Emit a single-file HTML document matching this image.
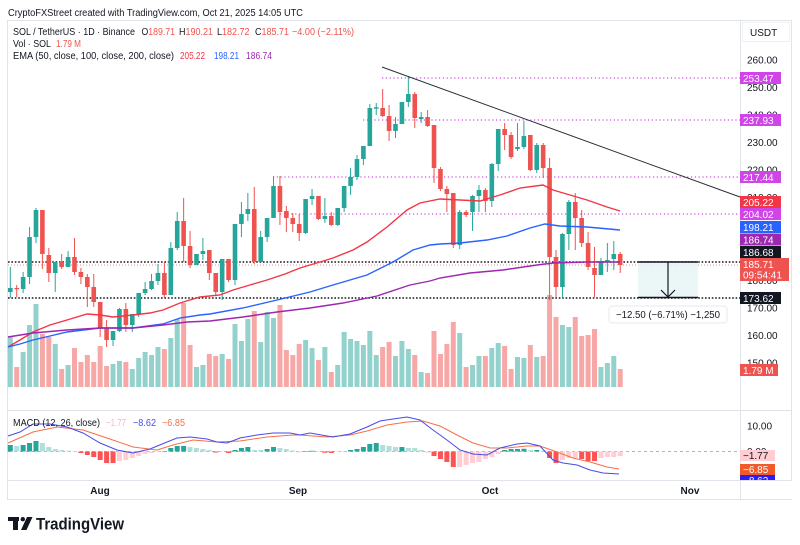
<!DOCTYPE html>
<html><head><meta charset="utf-8">
<style>
html,body{margin:0;padding:0;background:#fff;}
svg{display:block;font-family:"Liberation Sans",Arial,sans-serif;}
</style></head>
<body>
<svg width="800" height="545" viewBox="0 0 800 545" xmlns="http://www.w3.org/2000/svg">
<rect width="800" height="545" fill="#fff"/>
<text x="8" y="16" font-size="10" fill="#131722" textLength="295" lengthAdjust="spacingAndGlyphs">CryptoFXStreet created with TradingView.com, Oct 21, 2025 14:05 UTC</text>

<!-- frame -->
<rect x="7.5" y="20.5" width="784" height="479" fill="none" stroke="#e0e3eb" stroke-width="1"/>
<line x1="740.5" y1="20" x2="740.5" y2="500" stroke="#e0e3eb"/>
<line x1="8" y1="410.5" x2="792" y2="410.5" stroke="#e0e3eb"/>
<line x1="8" y1="480.5" x2="792" y2="480.5" stroke="#e0e3eb"/>

<!-- volume -->
<path fill="#93d2cc" d="M7.8 337h5V387h-5ZM20.64 352h5V387h-5ZM27.06 325h5V387h-5ZM33.48 304h5V387h-5ZM52.74 344h5V387h-5ZM65.58 365h5V387h-5ZM110.52 364h5V387h-5ZM116.94 361h5V387h-5ZM129.78 369h5V387h-5ZM136.2 358h5V387h-5ZM142.62 352h5V387h-5ZM149.04 355h5V387h-5ZM155.46 347h5V387h-5ZM168.3 338h5V387h-5ZM174.72 319h5V387h-5ZM193.98 367h5V387h-5ZM200.4 365h5V387h-5ZM219.66 354h5V387h-5ZM232.5 324h5V387h-5ZM238.92 341h5V387h-5ZM245.34 319h5V387h-5ZM258.18 342h5V387h-5ZM264.6 312h5V387h-5ZM271.02 318h5V387h-5ZM303.12 340h5V387h-5ZM309.54 348h5V387h-5ZM322.38 347h5V387h-5ZM335.22 365h5V387h-5ZM341.64 332h5V387h-5ZM348.06 339h5V387h-5ZM354.48 341h5V387h-5ZM360.9 345h5V387h-5ZM367.32 331h5V387h-5ZM373.74 355h5V387h-5ZM393 356h5V387h-5ZM399.42 341h5V387h-5ZM405.84 349h5V387h-5ZM418.68 372h5V387h-5ZM457.2 333h5V387h-5ZM470.04 365h5V387h-5ZM476.46 356h5V387h-5ZM489.3 348h5V387h-5ZM495.72 343h5V387h-5ZM514.98 357h5V387h-5ZM521.4 358h5V387h-5ZM534.24 357h5V387h-5ZM559.92 325h5V387h-5ZM566.34 327h5V387h-5ZM598.44 367h5V387h-5ZM604.86 363h5V387h-5ZM611.28 356h5V387h-5Z"/>
<path fill="#f6a7a6" d="M14.22 367h5V387h-5ZM39.9 334h5V387h-5ZM46.32 337h5V387h-5ZM59.16 369h5V387h-5ZM72 348h5V387h-5ZM78.42 362h5V387h-5ZM84.84 355h5V387h-5ZM91.26 362h5V387h-5ZM97.68 346h5V387h-5ZM104.1 366h5V387h-5ZM123.36 362h5V387h-5ZM161.88 349h5V387h-5ZM181.14 303h5V387h-5ZM187.56 345h5V387h-5ZM206.82 354h5V387h-5ZM213.24 356h5V387h-5ZM226.08 359h5V387h-5ZM251.76 311h5V387h-5ZM277.44 305h5V387h-5ZM283.86 350h5V387h-5ZM290.28 355h5V387h-5ZM296.7 344h5V387h-5ZM315.96 360h5V387h-5ZM328.8 372h5V387h-5ZM380.16 347h5V387h-5ZM386.58 342h5V387h-5ZM412.26 355h5V387h-5ZM425.1 373h5V387h-5ZM431.52 331h5V387h-5ZM437.94 354h5V387h-5ZM444.36 344h5V387h-5ZM450.78 322h5V387h-5ZM463.62 367h5V387h-5ZM482.88 356h5V387h-5ZM502.14 346h5V387h-5ZM508.56 369h5V387h-5ZM527.82 345h5V387h-5ZM540.66 356h5V387h-5ZM547.08 295h5V387h-5ZM553.5 317h5V387h-5ZM572.76 317h5V387h-5ZM579.18 336h5V387h-5ZM585.6 335h5V387h-5ZM592.02 329h5V387h-5ZM617.7 369h5V387h-5Z"/>

<!-- horizontal levels -->
<g fill="none">
<line x1="382" y1="78" x2="740" y2="78" stroke="#d24ae6" stroke-width="1.2" stroke-dasharray="1.2 2.6"/>
<line x1="363" y1="120" x2="740" y2="120" stroke="#d24ae6" stroke-width="1.2" stroke-dasharray="1.2 2.6"/>
<line x1="273" y1="177" x2="740" y2="177" stroke="#d24ae6" stroke-width="1.2" stroke-dasharray="1.2 2.6"/>
<line x1="280" y1="214" x2="740" y2="214" stroke="#d24ae6" stroke-width="1.2" stroke-dasharray="1.2 2.6"/>
<line x1="8" y1="265" x2="740" y2="265" stroke="#f28b8b" stroke-width="1" stroke-dasharray="1 2"/>
<line x1="8" y1="262" x2="740" y2="262" stroke="#131722" stroke-width="1.6" stroke-dasharray="1.6 1.8"/>
<line x1="8" y1="298" x2="740" y2="298" stroke="#131722" stroke-width="1.6" stroke-dasharray="1.6 1.8"/>
</g>

<!-- measure box -->
<rect x="638" y="262" width="60" height="36" fill="#e6f4f4" opacity="0.8"/>
<line x1="638" y1="262" x2="698" y2="262" stroke="#131722" stroke-width="1.5"/>
<line x1="638" y1="297.5" x2="698" y2="297.5" stroke="#131722" stroke-width="1.5"/>
<line x1="668" y1="262" x2="668" y2="297" stroke="#131722" stroke-width="1.2"/>
<polyline points="661,290 668,297 675,290" fill="none" stroke="#131722" stroke-width="1.2"/>

<!-- candles: wicks -->
<path fill="none" stroke="#26a69a" stroke-width="1" d="M10.3 267V298M23.14 272V293M29.56 227V284M35.98 208V243M55.24 262V292M68.08 251V267M113.02 331V346M119.44 308V332M132.28 314V332M138.7 293V317M145.12 282V295M151.54 274V290M157.96 264V285M170.8 242V295M177.22 212V250M196.48 254V265M202.9 238V260M222.16 259V300M235 224V285M241.42 202V237M247.84 193V221M260.68 231V262M267.1 218V242M273.52 176V218M305.62 199V234M312.04 189V205M324.88 198V223M337.72 208V226M344.14 186V212M350.56 168V195M356.98 155V180M363.4 146V165M369.82 104V146M376.24 103V115M395.5 117V138M401.92 102V124M408.34 77V107M421.18 112V123M459.7 210V249M472.54 195V231M478.96 185V212M491.8 163V207M498.22 129V171M517.48 123V151M523.9 121V149M536.74 143V173M562.42 233V298M568.84 200V250M600.94 258V275M607.36 243V272M613.78 241V270"/>
<path fill="none" stroke="#ef5350" stroke-width="1" d="M16.72 285V297M42.4 210V269M48.82 248V282M61.66 254V269M74.5 238V275M80.92 268V284M87.34 274V307M93.76 274V307M100.18 302V337M106.6 320V347M125.86 303V332M164.38 262V298M183.64 198V262M190.06 231V268M209.32 250V280M215.74 273V295M228.58 259V282M254.26 187V264M279.94 176V225M286.36 206V232M292.78 213V232M299.2 214V241M318.46 196V220M331.3 212V226M382.66 89V117M389.08 105V141M414.76 92V128M427.6 110V127M434.02 125V183M440.44 167V191M446.86 186V212M453.28 193V248M466.12 210V217M485.38 188V212M504.64 123V150M511.06 132V159M530.32 135V171M543.16 143V178M549.58 158V300M556 250V297M575.26 193V250M581.68 210V247M588.1 232V270M594.52 247V297M620.2 252V273"/>
<!-- candles: bodies -->
<path fill="#26a69a" d="M8 288h4.6V292h-4.6ZM20.84 277h4.6V289h-4.6ZM27.26 237h4.6V277h-4.6ZM33.68 210h4.6V237h-4.6ZM52.94 262h4.6V273h-4.6ZM65.78 257h4.6V267h-4.6ZM110.72 331h4.6V340h-4.6ZM117.14 309h4.6V331h-4.6ZM129.98 314h4.6V325h-4.6ZM136.4 293h4.6V314h-4.6ZM142.82 289h4.6V293h-4.6ZM149.24 281h4.6V289h-4.6ZM155.66 273h4.6V281h-4.6ZM168.5 248h4.6V295h-4.6ZM174.92 221h4.6V248h-4.6ZM194.18 254h4.6V265h-4.6ZM200.6 251h4.6V254h-4.6ZM219.86 259h4.6V292h-4.6ZM232.7 224h4.6V280h-4.6ZM239.12 214h4.6V224h-4.6ZM245.54 209h4.6V214h-4.6ZM258.38 237h4.6V262h-4.6ZM264.8 218h4.6V237h-4.6ZM271.22 186h4.6V218h-4.6ZM303.32 199h4.6V233h-4.6ZM309.74 196h4.6V199h-4.6ZM322.58 216h4.6V219h-4.6ZM335.42 208h4.6V225h-4.6ZM341.84 186h4.6V208h-4.6ZM348.26 177h4.6V186h-4.6ZM354.68 159h4.6V177h-4.6ZM361.1 146h4.6V159h-4.6ZM367.52 108h4.6V146h-4.6ZM373.94 107.3h4.6V108.7h-4.6ZM393.2 124h4.6V131h-4.6ZM399.62 102h4.6V124h-4.6ZM406.04 94h4.6V102h-4.6ZM418.88 117h4.6V119h-4.6ZM457.4 212h4.6V245h-4.6ZM470.24 196h4.6V212h-4.6ZM476.66 190h4.6V196h-4.6ZM489.5 164h4.6V201h-4.6ZM495.92 129h4.6V164h-4.6ZM515.18 147h4.6V149h-4.6ZM521.6 136h4.6V147h-4.6ZM534.44 145h4.6V170h-4.6ZM560.12 234h4.6V287h-4.6ZM566.54 202h4.6V234h-4.6ZM598.64 261h4.6V275h-4.6ZM605.06 260h4.6V262h-4.6ZM611.48 254h4.6V259h-4.6Z"/>
<path fill="#ef5350" d="M14.42 288h4.6V289.2h-4.6ZM40.1 210h4.6V254h-4.6ZM46.52 255h4.6V273h-4.6ZM59.36 262h4.6V267h-4.6ZM72.2 257h4.6V272h-4.6ZM78.62 272h4.6V277h-4.6ZM85.04 277h4.6V287h-4.6ZM91.46 287h4.6V302h-4.6ZM97.88 302h4.6V328h-4.6ZM104.3 328h4.6V340h-4.6ZM123.56 309h4.6V325h-4.6ZM162.08 273h4.6V295h-4.6ZM181.34 221h4.6V246h-4.6ZM187.76 246h4.6V265h-4.6ZM207.02 250h4.6V273h-4.6ZM213.44 273h4.6V292h-4.6ZM226.28 259h4.6V280h-4.6ZM251.96 209h4.6V262h-4.6ZM277.64 186h4.6V212h-4.6ZM284.06 211h4.6V218h-4.6ZM290.48 218h4.6V224h-4.6ZM296.9 224h4.6V233h-4.6ZM316.16 196h4.6V219h-4.6ZM329 216h4.6V225h-4.6ZM380.36 108h4.6V116h-4.6ZM386.78 116h4.6V131h-4.6ZM412.46 94h4.6V118h-4.6ZM425.3 117h4.6V126h-4.6ZM431.72 125h4.6V168h-4.6ZM438.14 169h4.6V189h-4.6ZM444.56 189h4.6V194h-4.6ZM450.98 193h4.6V245h-4.6ZM463.82 212h4.6V215h-4.6ZM483.08 190h4.6V201h-4.6ZM502.34 129h4.6V135h-4.6ZM508.76 135h4.6V157h-4.6ZM528.02 135h4.6V170h-4.6ZM540.86 145h4.6V168h-4.6ZM547.28 168h4.6V257h-4.6ZM553.7 257h4.6V287h-4.6ZM572.96 202h4.6V218h-4.6ZM579.38 218h4.6V243h-4.6ZM585.8 243h4.6V267h-4.6ZM592.22 268h4.6V275h-4.6ZM617.9 254h4.6V265h-4.6Z"/>

<!-- EMAs -->
<polyline fill="none" stroke="#f23645" stroke-width="1.4" points="8,347 20,340 33,332 50,325 67,320 87,314 100,315 113,317 133,315 150,313 163,310 180,303 200,297 220,295 233,290 250,285 267,280 285,274 300,268 320,262 333,258 353,250 367,242 387,227 407,210 420,203 440,199 460,200 480,201 500,195 520,188 543,185 553,190 570,195 587,200 607,207 620,211"/>
<polyline fill="none" stroke="#2962ff" stroke-width="1.4" points="8,347 20,344 33,340 50,336 67,332 100,328 133,328 163,324 180,318 200,315 210,314 243,308 277,300 310,292 333,285 367,275 393,262 413,250 430,245 440,244 460,243 487,240 507,236 530,228 545,224 560,226 587,227 620,230"/>
<polyline fill="none" stroke="#9c27b0" stroke-width="1.4" points="8,337 33,333 67,330 100,328 133,328 163,325 187,322 210,321 243,317 277,312 310,308 343,303 377,296 410,285 430,281 440,278 470,273 503,270 537,265 553,263 587,262 620,262"/>

<!-- trendline -->
<line x1="382" y1="67" x2="740" y2="197" stroke="#2a2e39" stroke-width="1"/>

<!-- measure label -->
<rect x="609" y="306" width="118" height="17" rx="3" fill="#fff" stroke="#e6e8ee" stroke-width="1"/>
<text x="668" y="318" font-size="10" fill="#131722" text-anchor="middle" textLength="104" lengthAdjust="spacingAndGlyphs">−12.50 (−6.71%) −1,250</text>

<!-- legend -->
<text x="13" y="35" font-size="10" fill="#131722" textLength="122" lengthAdjust="spacingAndGlyphs">SOL / TetherUS · 1D · Binance</text>
<text x="141.5" y="35" font-size="10" fill="#131722" textLength="33.5" lengthAdjust="spacingAndGlyphs">O<tspan fill="#ef5350">189.71</tspan></text>
<text x="179" y="35" font-size="10" fill="#131722" textLength="34" lengthAdjust="spacingAndGlyphs">H<tspan fill="#ef5350">190.21</tspan></text>
<text x="217" y="35" font-size="10" fill="#131722" textLength="32.5" lengthAdjust="spacingAndGlyphs">L<tspan fill="#ef5350">182.72</tspan></text>
<text x="255" y="35" font-size="10" fill="#131722" textLength="34" lengthAdjust="spacingAndGlyphs">C<tspan fill="#ef5350">185.71</tspan></text>
<text x="292" y="35" font-size="10" fill="#ef5350" textLength="62" lengthAdjust="spacingAndGlyphs">−4.00 (−2.11%)</text>
<text x="13" y="47" font-size="10" fill="#131722" textLength="38" lengthAdjust="spacingAndGlyphs">Vol · SOL</text>
<text x="56" y="47" font-size="10" fill="#ef5350" textLength="25" lengthAdjust="spacingAndGlyphs">1.79 M</text>
<text x="13" y="59" font-size="10" fill="#131722" textLength="161" lengthAdjust="spacingAndGlyphs">EMA (50, close, 100, close, 200, close)</text>
<text x="180" y="59" font-size="10" fill="#f23645" textLength="25" lengthAdjust="spacingAndGlyphs">205.22</text>
<text x="214" y="59" font-size="10" fill="#2962ff" textLength="25" lengthAdjust="spacingAndGlyphs">198.21</text>
<text x="246" y="59" font-size="10" fill="#9c27b0" textLength="26" lengthAdjust="spacingAndGlyphs">186.74</text>

<!-- MACD panel -->
<line x1="8" y1="451.5" x2="740" y2="451.5" stroke="#b2b5be" stroke-width="1" stroke-dasharray="3 3"/>
<path fill="#26a69a" d="M7.8 445h5V451.5h-5ZM20.64 445h5V451.5h-5ZM27.06 443h5V451.5h-5ZM33.48 441h5V451.5h-5ZM161.88 451h5V451.5h-5ZM168.3 448h5V451.5h-5ZM174.72 446h5V451.5h-5ZM181.14 446h5V451.5h-5ZM232.5 450h5V451.5h-5ZM238.92 448h5V451.5h-5ZM245.34 447h5V451.5h-5ZM264.6 449h5V451.5h-5ZM271.02 447h5V451.5h-5ZM303.12 451h5V451.5h-5ZM309.54 450.8h5V451.5h-5ZM348.06 450h5V451.5h-5ZM354.48 449h5V451.5h-5ZM360.9 447h5V451.5h-5ZM367.32 444h5V451.5h-5ZM373.74 443h5V451.5h-5ZM399.42 447h5V451.5h-5ZM502.14 450h5V451.5h-5ZM508.56 449h5V451.5h-5ZM514.98 449h5V451.5h-5ZM521.4 448.7h5V451.5h-5ZM534.24 450h5V451.5h-5Z"/>
<path fill="#b2dfdb" d="M14.22 446h5V451.5h-5ZM39.9 443h5V451.5h-5ZM46.32 447h5V451.5h-5ZM52.74 449h5V451.5h-5ZM59.16 450h5V451.5h-5ZM65.58 450.8h5V451.5h-5ZM187.56 447h5V451.5h-5ZM193.98 448h5V451.5h-5ZM200.4 449h5V451.5h-5ZM206.82 450h5V451.5h-5ZM251.76 450h5V451.5h-5ZM258.18 450h5V451.5h-5ZM277.44 448h5V451.5h-5ZM283.86 449h5V451.5h-5ZM290.28 450.5h5V451.5h-5ZM341.64 451h5V451.5h-5ZM380.16 445h5V451.5h-5ZM386.58 446h5V451.5h-5ZM393 447h5V451.5h-5ZM405.84 448h5V451.5h-5ZM412.26 448h5V451.5h-5ZM418.68 450h5V451.5h-5ZM527.82 450h5V451.5h-5ZM540.66 450.5h5V451.5h-5Z"/>
<path fill="#ff5252" d="M78.42 453h5V451.5h-5ZM84.84 455h5V451.5h-5ZM91.26 457h5V451.5h-5ZM97.68 460h5V451.5h-5ZM104.1 463h5V451.5h-5ZM110.52 463h5V451.5h-5ZM213.24 452.5h5V451.5h-5ZM226.08 453h5V451.5h-5ZM322.38 452.7h5V451.5h-5ZM328.8 453h5V451.5h-5ZM431.52 456h5V451.5h-5ZM437.94 459h5V451.5h-5ZM444.36 462h5V451.5h-5ZM450.78 467h5V451.5h-5ZM547.08 458h5V451.5h-5ZM553.5 463h5V451.5h-5ZM579.18 459h5V451.5h-5ZM585.6 461h5V451.5h-5ZM592.02 461h5V451.5h-5Z"/>
<path fill="#ffcdd2" d="M72 452h5V451.5h-5ZM116.94 461h5V451.5h-5ZM123.36 460h5V451.5h-5ZM129.78 458h5V451.5h-5ZM136.2 456h5V451.5h-5ZM142.62 454h5V451.5h-5ZM149.04 453h5V451.5h-5ZM155.46 452h5V451.5h-5ZM219.66 452h5V451.5h-5ZM296.7 452.5h5V451.5h-5ZM315.96 452h5V451.5h-5ZM335.22 452h5V451.5h-5ZM425.1 452.7h5V451.5h-5ZM457.2 467h5V451.5h-5ZM463.62 465h5V451.5h-5ZM470.04 463h5V451.5h-5ZM476.46 462h5V451.5h-5ZM482.88 459h5V451.5h-5ZM489.3 457h5V451.5h-5ZM495.72 454h5V451.5h-5ZM559.92 460h5V451.5h-5ZM566.34 458h5V451.5h-5ZM572.76 458h5V451.5h-5ZM598.44 458h5V451.5h-5ZM604.86 457h5V451.5h-5ZM611.28 457h5V451.5h-5ZM617.7 456h5V451.5h-5Z"/>
<polyline fill="none" stroke="#f4714a" stroke-width="1" points="8,443 33,432 57,427 83,430 107,438 133,447 157,450 173,445 193,440 217,442 240,441 267,437 293,435 300,435 327,437 350,435 367,431 387,425 407,422 423,421 440,426 457,435 473,443 490,448 507,448 527,446 540,446 557,452 573,458 590,462 607,467 619,469"/>
<polyline fill="none" stroke="#4a4ae8" stroke-width="1" points="8,436 20,432 33,424 50,424 67,427 83,433 100,443 117,450 133,453 150,449 167,442 177,438 190,437 207,439 217,442 227,443 240,438 257,435 273,433 290,433 300,435 310,433 333,437 350,434 367,427 380,421 393,419 407,417 420,420 433,430 447,440 460,450 473,454 487,455 500,448 517,444 527,443 540,446 553,460 563,463 577,465 590,470 603,473 619,474"/>
<text x="13" y="426" font-size="10" fill="#131722" textLength="87" lengthAdjust="spacingAndGlyphs">MACD (12, 26, close)</text>
<text x="106" y="426" font-size="10" fill="#f5b5bb" textLength="20" lengthAdjust="spacingAndGlyphs">−1.77</text>
<text x="133" y="426" font-size="10" fill="#4a4ae8" textLength="23" lengthAdjust="spacingAndGlyphs">−8.62</text>
<text x="162" y="426" font-size="10" fill="#f4714a" textLength="23" lengthAdjust="spacingAndGlyphs">−6.85</text>

<!-- right axis -->
<rect x="742.5" y="22.5" width="47" height="19" fill="#fff" stroke="#eef0f3"/>
<text x="750" y="36" font-size="10" fill="#131722">USDT</text>
<g font-size="10" fill="#131722">
<text x="747" y="63.5">260.00</text>
<text x="747" y="91">250.00</text>
<text x="747" y="118.5">240.00</text>
<text x="747" y="146">230.00</text>
<text x="747" y="173.5">220.00</text>
<text x="747" y="201">210.00</text>
<text x="747" y="229">200.00</text>
<text x="747" y="256.5">190.00</text>
<text x="747" y="284">180.00</text>
<text x="747" y="311.5">170.00</text>
<text x="747" y="339">160.00</text>
<text x="747" y="366.5">150.00</text>
<text x="747" y="429.5">10.00</text>
<text x="747" y="455">0.00</text>
</g>
<g font-size="10" fill="#fff">
<rect x="740" y="72" width="41" height="12" fill="#cf45e8"/><text x="743" y="81.8">253.47</text>
<rect x="740" y="114" width="41" height="12" fill="#cf45e8"/><text x="743" y="123.8">237.93</text>
<rect x="740" y="171" width="41" height="12" fill="#cf45e8"/><text x="743" y="180.8">217.44</text>
<rect x="740" y="196" width="41" height="12" fill="#f23645"/><text x="743" y="205.8">205.22</text>
<rect x="740" y="208" width="41" height="12" fill="#cf45e8"/><text x="743" y="217.8">204.02</text>
<rect x="740" y="221" width="41" height="12" fill="#2962ff"/><text x="743" y="230.8">198.21</text>
<rect x="740" y="233.5" width="41" height="12" fill="#9c27b0"/><text x="743" y="243.3">186.74</text>
<rect x="740" y="246" width="41" height="12" fill="#131722"/><text x="743" y="255.8">186.68</text>
<rect x="740" y="258" width="49" height="23" fill="#ef5350"/><text x="743" y="268">185.71</text><text x="743" y="278.5">09:54:41</text>
<rect x="740" y="292" width="41" height="12" fill="#131722"/><text x="743" y="301.8">173.62</text>
<rect x="740" y="364" width="38" height="12" fill="#ef5350"/><text x="743" y="373.8">1.79 M</text>
<rect x="740" y="450" width="35" height="11" fill="#ffcdd2"/><text x="743" y="459.2" fill="#131722">−1.77</text>
<rect x="740" y="464" width="35" height="11" fill="#f15a2b"/><text x="743" y="473.2">−6.85</text>
<rect x="740" y="475" width="35" height="11" fill="#2a1ef0"/><text x="743" y="484.2">−8.62</text>
</g>

<!-- time axis -->
<rect x="8" y="481" width="784" height="18.5" fill="#fff"/>
<line x1="740.5" y1="480" x2="740.5" y2="500" stroke="#e0e3eb"/>
<line x1="8" y1="499.5" x2="792" y2="499.5" stroke="#e0e3eb"/>
<line x1="8" y1="480.5" x2="792" y2="480.5" stroke="#e0e3eb"/>
<g font-size="10" font-weight="bold" fill="#131722" text-anchor="middle">
<text x="100" y="494">Aug</text>
<text x="298" y="494">Sep</text>
<text x="490" y="494">Oct</text>
<text x="690" y="494">Nov</text>
</g>

<!-- logo -->
<g fill="#131722">
<rect x="8" y="517" width="11" height="4"/>
<rect x="13" y="517" width="5" height="13"/>
<circle cx="22.8" cy="519.2" r="2.2"/>
<polygon points="27,517 32.5,517 26.5,530 21,530"/>
<text x="36" y="529.5" font-size="17" font-weight="bold" textLength="88" lengthAdjust="spacingAndGlyphs">TradingView</text>
</g>
</svg>
</body></html>
